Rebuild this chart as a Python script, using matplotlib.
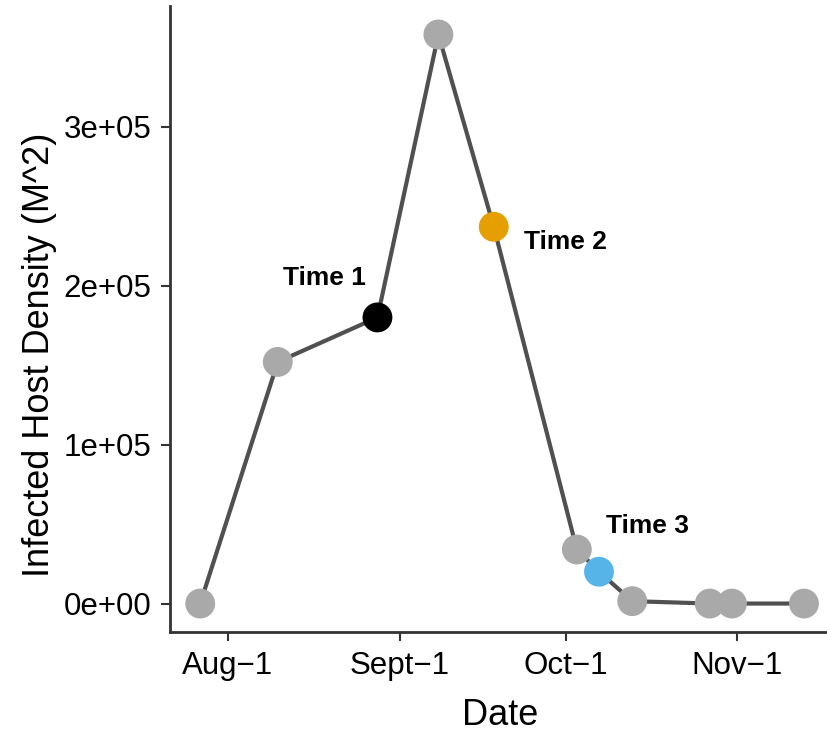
import datetime as dt
import matplotlib
matplotlib.use("Agg")
import matplotlib.pyplot as plt
import matplotlib.dates as mdates
from matplotlib.ticker import FuncFormatter

plt.rcParams['font.family'] = ['Liberation Sans', 'DejaVu Sans']

# Dates d'échantillonnage et densité d'hôtes infectés
dates = [dt.date(2017, 7, 27), dt.date(2017, 8, 10), dt.date(2017, 8, 28),
         dt.date(2017, 9, 8), dt.date(2017, 9, 18), dt.date(2017, 10, 3),
         dt.date(2017, 10, 7), dt.date(2017, 10, 13), dt.date(2017, 10, 27),
         dt.date(2017, 10, 31), dt.date(2017, 11, 13)]
densite = [0, 152000, 180000, 358000, 237000, 34000, 20000, 1500, 0, 0, 0]

# Points mis en évidence : indice, étiquette, couleur
temps_idx = [2, 4, 6]
temps_labels = ["Time 1", "Time 2", "Time 3"]
temps_couleurs = ["#000000", "#E69F00", "#56B4E9"]

tick_dates = [dt.date(2017, 8, 1), dt.date(2017, 9, 1), dt.date(2017, 10, 1), dt.date(2017, 11, 1)]
tick_labels = ["Aug\u22121", "Sept\u22121", "Oct\u22121", "Nov\u22121"]

fig = plt.figure(figsize=(8.27, 7.36), dpi=100)
ax = fig.add_axes([0.2056, 0.1413, 0.803, 0.8505])

x = mdates.date2num(dates)
ax.plot(x, densite, color="#505050", lw=3, zorder=1)
couleurs = ["#A9A9A9"] * len(dates)
for i, c in zip(temps_idx, temps_couleurs):
    couleurs[i] = c
ax.scatter(x, densite, s=21.5 ** 2, c=couleurs, zorder=2, linewidths=0)

# étiquettes des temps
decalages = [(-38, 20, "center", "bottom"), (22, -11, "left", "center"), (5, 33, "left", "center")]
for i, lab, (dx, dy, ha, va) in zip(temps_idx, temps_labels, decalages):
    ax.annotate(lab, (x[i], densite[i]), xytext=(dx, dy), textcoords="offset points",
                ha=ha, va=va, fontsize=19, fontweight="bold")

# limites à la ggplot (5 % de marge)
xr = x.max() - x.min()
ax.set_xlim(x.min() - 0.05 * xr, x.max() + 0.05 * xr)
yr = max(densite) - min(densite)
ax.set_ylim(min(densite) - 0.05 * yr, max(densite) + 0.05 * yr)

ax.set_xticks(mdates.date2num(tick_dates))
ax.set_xticklabels(tick_labels)
ax.set_yticks([0, 100000, 200000, 300000])
ax.yaxis.set_major_formatter(FuncFormatter(lambda v, p: f"{v:.0e}"))

for s in ["top", "right"]:
    ax.spines[s].set_visible(False)
for s in ["left", "bottom"]:
    ax.spines[s].set_linewidth(2)
    ax.spines[s].set_color("#333333")
ax.tick_params(length=6.5, width=1.5, color="#333333", labelsize=22.5, pad=7)

ax.set_xlabel("Date", fontsize=26)
ax.set_ylabel("Infected Host Density (M^2)", fontsize=26)
ax.xaxis.set_label_coords(0.497, -0.105)
ax.yaxis.set_label_coords(-0.17, 0.443)

fig.savefig("out.png", dpi=100)
